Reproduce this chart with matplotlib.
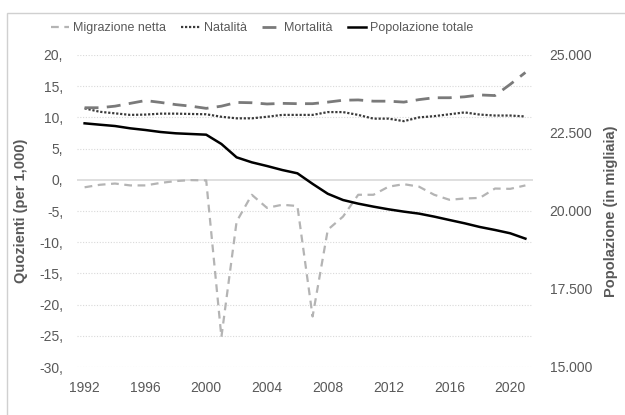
import numpy as np
import matplotlib.pyplot as plt
from matplotlib.patches import Rectangle
from matplotlib.ticker import FuncFormatter, MultipleLocator

years = list(range(1992, 2022))

migrazione = [-1.2, -0.8, -0.6, -0.9, -0.9, -0.5, -0.2, -0.05, -0.1, -25.2,
              -6.7, -2.4, -4.5, -4.0, -4.2, -21.9, -8.0, -5.9, -2.4, -2.4,
              -1.1, -0.7, -1.1, -2.4, -3.2, -3.0, -2.9, -1.4, -1.45, -0.9]

natalita = [11.45, 10.9, 10.65, 10.4, 10.45, 10.6, 10.6, 10.55, 10.5, 10.1,
            9.85, 9.85, 10.1, 10.4, 10.4, 10.4, 10.85, 10.85, 10.4, 9.8,
            9.8, 9.4, 10.0, 10.2, 10.5, 10.8, 10.45, 10.3, 10.3, 10.15]

mortalita = [11.55, 11.55, 11.8, 12.25, 12.7, 12.4, 12.05, 11.8, 11.45, 11.8,
             12.4, 12.35, 12.15, 12.25, 12.2, 12.2, 12.45, 12.75, 12.8, 12.6,
             12.6, 12.45, 12.85, 13.15, 13.15, 13.3, 13.6, 13.5, 15.3, 17.2]

popolazione = [22810, 22766, 22724, 22650, 22596, 22532, 22490, 22468, 22446, 22148,
               21720, 21560, 21442, 21314, 21208, 20870, 20552, 20352, 20236, 20140,
               20054, 19980, 19916, 19820, 19712, 19606, 19488, 19392, 19286, 19114]

plt.rcParams['font.family'] = ['Liberation Sans', 'DejaVu Sans']

fig = plt.figure(figsize=(6.25, 4.15), dpi=100)
ax = fig.add_axes([77 / 625, 1 - 367 / 415, (533 - 77) / 625, (367 - 55) / 415])
ax2 = ax.twinx()

# frame round the chart, like the Excel chart area
fig.patches.append(Rectangle((7 / 625, -0.2), 1.2, 1.2 - 13 / 415,
                             transform=fig.transFigure, fill=False,
                             edgecolor='#d0d0d0', linewidth=1.0))

txt = '#595959'

ax.set_ylim(-30, 20)
ax.set_xlim(1991.5, 2021.5)
ax2.set_ylim(15000, 25000)
ax.yaxis.set_major_locator(MultipleLocator(5))
ax2.yaxis.set_major_locator(MultipleLocator(2500))
ax.set_xticks(years[::4])

for v in range(-30, 21, 5):
    if v == 0:
        ax.axhline(0, color='#d9d9d9', linewidth=1.2, zorder=0)
    else:
        ax.axhline(v, color='#d9d9d9', linewidth=0.8, linestyle=(0, (1, 1.5)), zorder=0)

l1, = ax.plot(years, migrazione, color='#b4b4b4', linewidth=1.6,
              linestyle=(0, (3.5, 2.5)), label='Migrazione netta')
l2, = ax.plot(years, natalita, color='#3a3a3a', linewidth=1.6,
              linestyle=(0, (1, 0.8)), label='Natalità')
l3, = ax.plot(years, mortalita, color='#7a7a7a', linewidth=2.0,
              linestyle=(0, (5, 3)), label='Mortalità')
l4, = ax2.plot(years, popolazione, color='black', linewidth=1.8,
               label='Popolazione totale')

ax.yaxis.set_major_formatter(FuncFormatter(lambda v, p: f'{int(v)},'))
ax2.yaxis.set_major_formatter(FuncFormatter(lambda v, p: f'{int(v):,}'.replace(',', '.')))

for a in (ax, ax2):
    for s in a.spines.values():
        s.set_visible(False)
    a.tick_params(length=0, labelsize=10, colors=txt)
ax.tick_params(axis='y', pad=10)
ax.tick_params(axis='x', pad=10)
ax2.tick_params(axis='y', pad=12)

ax.set_ylabel('Quozienti (per 1,000)', fontsize=10.5, fontweight='bold',
              color=txt, labelpad=8)
ax2.set_ylabel('Popolazione (in migliaia)', fontsize=10.5, fontweight='bold',
               color=txt, labelpad=8)

fig.legend(handles=[l1, l2, l3, l4], loc='center', bbox_to_anchor=(262 / 625, 1 - 28 / 415),
           ncol=4, frameon=False, fontsize=9, handlelength=1.5, handletextpad=0.3,
           columnspacing=1.2, labelcolor=txt)

fig.savefig('out.png', dpi=100)
